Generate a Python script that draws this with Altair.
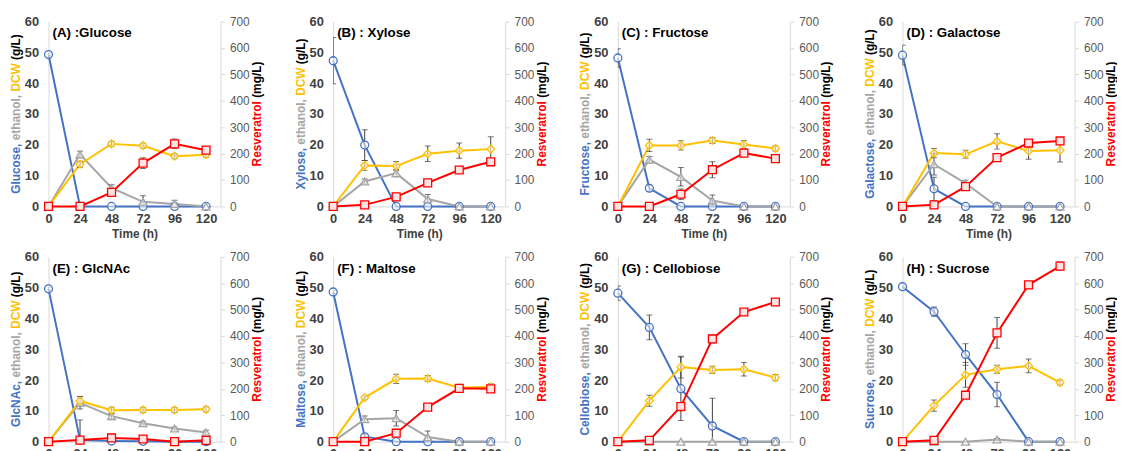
import altair as alt
import pandas as pd

TIME = [0, 24, 48, 72, 96, 120]
PANELS = ["A", "B", "C", "D", "E", "F", "G", "H"]
SUGAR_NAMES = ["Glucose", "Xylose", "Fructose", "Galactose", "GlcNAc", "Maltose", "Cellobiose", "Sucrose"]
TITLES = ["(A) :Glucose", "(B) : Xylose", "(C) : Fructose", "(D) : Galactose",
          "(E) : GlcNAc", "(F) : Maltose", "(G) : Cellobiose", "(H) : Sucrose"]

SUGAR = {
    "A": [49.3, 0, 0, 0, 0, 0],
    "B": [47.3, 19.9, 0, 0, 0, 0],
    "C": [48.2, 5.9, 0, 0, 0, 0],
    "D": [49.1, 5.7, 0, 0, 0, 0],
    "E": [49.6, 0.5, 0.2, 0.1, 0, 0],
    "F": [48.6, 1.6, 0, 0, 0, 0],
    "G": [48.2, 37.1, 17.2, 5.1, 0, 0],
    "H": [50.3, 42.2, 28.3, 15.3, 0, 0],
}
SUGAR_ERR = {
    "A": [0.5, 0, 0, 0, 0, 0],
    "B": [7.5, 5.0, 0, 0, 0, 0],
    "C": [3.0, 1.0, 0, 0, 0, 0],
    "D": [3.2, 3.8, 0, 0, 0, 0],
    "E": [0.5, 6.5, 0, 0, 0, 0],
    "F": [0.5, 0.8, 0, 0, 0, 0],
    "G": [2.3, 4.0, 10.3, 9.0, 0, 0],
    "H": [0.5, 1.5, 3.5, 4.0, 0, 0],
}
ETHANOL = {
    "A": [0, 16.9, 6.0, 1.5, 0.8, 0],
    "B": [0, 8.1, 10.8, 2.4, 0, 0],
    "C": [0, 15.2, 9.6, 1.9, 0, 0],
    "D": [0, 13.7, 7.5, 0, 0, 0],
    "E": [0, 12.6, 8.3, 6.0, 4.3, 3.0],
    "F": [0, 7.3, 7.6, 1.5, 0, 0],
    "G": [0, 0, 0, 0, 0, 0],
    "H": [0, 0, 0, 0.7, 0, 0],
}
ETHANOL_ERR = {
    "A": [0, 1.0, 1.0, 2.0, 1.2, 0],
    "B": [0, 0.8, 1.2, 1.5, 0, 0],
    "C": [0, 1.0, 3.0, 1.8, 0, 0],
    "D": [0, 3.5, 1.0, 0, 0, 0],
    "E": [0, 2.0, 0.8, 0.6, 0.5, 0.7],
    "F": [0, 1.0, 2.5, 2.0, 0, 0],
    "G": [0, 0, 0, 0, 0, 0],
    "H": [0, 0, 0, 0.3, 0, 0],
}
DCW = {
    "A": [0, 13.7, 20.3, 19.7, 16.3, 16.8],
    "B": [0, 13.3, 13.1, 17.1, 18.1, 18.6],
    "C": [0, 19.8, 19.8, 21.4, 20.1, 18.8],
    "D": [0, 17.3, 16.9, 21.1, 18.0, 18.2],
    "E": [0, 13.2, 10.2, 10.3, 10.3, 10.5],
    "F": [0, 14.3, 20.4, 20.5, 17.5, 17.8],
    "G": [0, 13.3, 24.2, 23.3, 23.5, 20.8],
    "H": [0, 11.7, 21.7, 23.5, 24.6, 19.2],
}
DCW_ERR = {
    "A": [0, 1.0, 0.8, 0.8, 0.8, 0.8],
    "B": [0, 1.6, 1.5, 2.5, 2.5, 4.0],
    "C": [0, 2.0, 1.5, 1.0, 1.3, 0.8],
    "D": [0, 1.5, 1.3, 2.5, 2.7, 3.8],
    "E": [0, 1.5, 1.0, 0.8, 0.8, 0.8],
    "F": [0, 0.5, 1.5, 1.0, 0.5, 1.0],
    "G": [0, 1.8, 3.5, 1.2, 2.2, 1.0],
    "H": [0, 1.8, 4.0, 1.3, 2.2, 0.8],
}
RESV = {
    "A": [0, 0, 53, 164, 237, 213],
    "B": [0, 6, 36, 89, 138, 169],
    "C": [0, 0, 46, 139, 202, 181],
    "D": [0, 6, 75, 185, 240, 248],
    "E": [0, 6, 14, 10, 0, 5],
    "F": [0, 0, 32, 131, 202, 200],
    "G": [0, 5, 133, 389, 491, 529],
    "H": [0, 5, 176, 412, 594, 665],
}
RESV_ERR = {
    "A": [0, 0, 8, 20, 18, 12],
    "B": [0, 2, 5, 6, 6, 6],
    "C": [0, 0, 20, 30, 8, 6],
    "D": [0, 2, 6, 8, 8, 10],
    "E": [0, 2, 2, 2, 1, 2],
    "F": [0, 0, 10, 12, 5, 5],
    "G": [0, 2, 10, 15, 6, 5],
    "H": [0, 3, 12, 58, 10, 15],
}

BLUE, GRAY, GOLD, RED = "#4472C4", "#A5A5A5", "#FFC000", "#FF0000"
ERRC = "#404040"
AXC = "#D9D9D9"
FONT = "Liberation Sans"
W, H = 174, 187
TFS = 12  # axis-title font size

ARIAL_BOLD = {
    " ": 278, "(": 333, ")": 333, ",": 278, "/": 278, ":": 333,
    "A": 722, "C": 722, "D": 722, "F": 611, "G": 778, "L": 611, "M": 833, "N": 722,
    "R": 722, "S": 667, "W": 944, "X": 667,
    "a": 556, "b": 611, "c": 556, "e": 556, "g": 611, "h": 611, "i": 278, "l": 278,
    "m": 889, "n": 611, "o": 611, "r": 389, "s": 556, "t": 333, "u": 611, "v": 556, "y": 556,
}


def text_w(s, size):
    return sum(ARIAL_BOLD.get(ch, 556) for ch in s) * size / 1000.0


xscale = alt.Scale(domain=[0, 131], nice=False, zero=False)
lscale = alt.Scale(domain=[0, 60], nice=False)
rscale = alt.Scale(domain=[0, 700], nice=False)

xaxis = alt.Axis(values=TIME, title="Time (h)", titleFontSize=12, titleFontWeight="bold",
                 titleColor="#404040", titlePadding=3, labelFontSize=13, labelFontWeight="bold",
                 labelColor="#404040", labelPadding=6, ticks=False, tickSize=0, domainColor=AXC,
                 grid=False, labelFlush=False, labelOverlap=False)
laxis = alt.Axis(values=list(range(0, 61, 10)), title=None, ticks=False, tickSize=0,
                 labelFontSize=13, labelFontWeight="bold", labelColor="#404040", labelPadding=10,
                 domainColor=AXC, grid=False)
raxis = alt.Axis(orient="right", values=list(range(0, 701, 100)), title=None, ticks=True,
                 tickSize=4, tickColor=AXC, domainColor=AXC, labelFontSize=12,
                 labelColor="#595959", labelPadding=5, grid=False)

SER = ["1sugar", "2ethanol", "3dcw"]


def xenc():
    return alt.X("t:Q", scale=xscale, axis=xaxis)


def label(text, color, x, y, size=12, angle=0, align="left"):
    return alt.Chart(pd.DataFrame({"k": [0]})).mark_text(
        text=text, color=color, font=FONT, fontSize=size, fontWeight="bold",
        angle=angle, align=align, baseline="middle"
    ).encode(x=alt.value(x), y=alt.value(y))


def rotated_title(pieces, x):
    # pieces are drawn bottom-to-top; a space gap follows every piece but the last
    gap = text_w(" ", TFS)
    total = sum(text_w(s, TFS) for s, _ in pieces) + gap * (len(pieces) - 1)
    y = H / 2 + total / 2
    out = []
    for s, c in pieces:
        out.append(label(s, c, x, y, size=TFS, angle=270))
        y -= text_w(s, TFS) + gap
    return out


def panel(i):
    p = PANELS[i]
    rows = []
    for s, vals, errs in [(SER[0], SUGAR[p], SUGAR_ERR[p]),
                          (SER[1], ETHANOL[p], ETHANOL_ERR[p]),
                          (SER[2], DCW[p], DCW_ERR[p])]:
        for t, v, e in zip(TIME, vals, errs):
            rows.append({"t": t, "series": s, "v": v, "lo": v - e, "hi": v + e, "e": e})
    left = pd.DataFrame(rows)
    res = pd.DataFrame({"t": TIME, "v": RESV[p], "e": RESV_ERR[p]})
    res["lo"] = res["v"] - res["e"]
    res["hi"] = res["v"] + res["e"]

    color = alt.Color("series:N", scale=alt.Scale(domain=SER, range=[BLUE, GRAY, GOLD]), legend=None)
    shape = alt.Shape("series:N", scale=alt.Scale(domain=SER, range=["circle", "triangle-up", "diamond"]),
                      legend=None)
    ly = alt.Y("v:Q", scale=lscale, axis=laxis)

    lines = alt.Chart(left).mark_line(strokeWidth=2).encode(x=xenc(), y=ly, color=color)
    errs = alt.Chart(left[left.e > 0]).mark_errorbar(
        ticks=True, size=6, thickness=1, color=ERRC, clip=True
    ).encode(x=xenc(), y=alt.Y("lo:Q", scale=lscale, axis=laxis), y2="hi:Q")
    pts = alt.Chart(left).mark_point(filled=False, fill="white", fillOpacity=0.6, size=64,
                                     strokeWidth=1.3).encode(x=xenc(), y=ly, color=color, shape=shape)

    texts = [label(TITLES[i], "black", 4, 12, size=13.5)]
    texts += rotated_title([(SUGAR_NAMES[i] + ",", BLUE), ("ethanol,", GRAY),
                            ("DCW", GOLD), ("(g/L)", "black")], -33)
    texts += rotated_title([("Resveratrol", RED), ("(mg/L)", "black")], W + 37)

    left_layer = alt.layer(lines, errs, pts, *texts)

    ry = alt.Y("v:Q", scale=rscale, axis=raxis)
    rline = alt.Chart(res).mark_line(strokeWidth=2, color=RED).encode(x=xenc(), y=ry)
    rerr = alt.Chart(res[res.e > 0]).mark_errorbar(
        ticks=True, size=6, thickness=1, color=ERRC, clip=True
    ).encode(x=xenc(), y=alt.Y("lo:Q", scale=rscale, axis=raxis), y2="hi:Q")
    rpts = alt.Chart(res).mark_point(shape="square", filled=False, fill="#fde4e4", fillOpacity=1,
                                     color=RED, size=64, strokeWidth=1.3).encode(x=xenc(), y=ry)
    right_layer = alt.layer(rline, rerr, rpts)

    return alt.layer(left_layer, right_layer).resolve_scale(y="independent").properties(width=W, height=H)


chart = alt.concat(*[panel(i) for i in range(8)], columns=4,
                   spacing={"row": 51, "column": 114}, bounds="flush").properties(
    padding={"left": 1, "top": 5, "right": 0, "bottom": 0},
    background="white",
).configure_view(stroke=None).configure_axis(labelFont=FONT, titleFont=FONT)

chart.save("out.html", embed_options={"renderer": "svg", "actions": False})
